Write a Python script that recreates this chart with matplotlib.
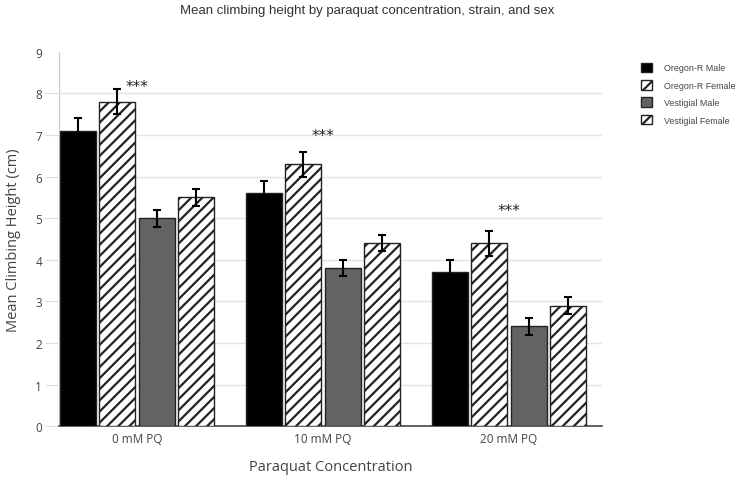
import numpy as np
import matplotlib.pyplot as plt

# data
groups = ['0 mM PQ', '10 mM PQ', '20 mM PQ']
series = ['Oregon-R Male', 'Oregon-R Female', 'Vestigial Male', 'Vestigial Female']
oregon_male = [7.1, 5.6, 3.7]
oregon_female = [7.8, 6.3, 4.4]
vest_male = [5.0, 3.8, 2.4]
vest_female = [5.5, 4.4, 2.9]
err_oregon_male = [0.3, 0.3, 0.3]
err_oregon_female = [0.3, 0.3, 0.3]
err_vest_male = [0.2, 0.2, 0.2]
err_vest_female = [0.2, 0.2, 0.2]
star_y = [7.98, 6.8, 5.0]

values = [oregon_male, oregon_female, vest_male, vest_female]
errors = [err_oregon_male, err_oregon_female, err_vest_male, err_vest_female]
faces = ['black', 'white', '#636363', 'white']
hatches = [None, '///', None, '///']

plt.rcParams['hatch.linewidth'] = 1.6

fig = plt.figure(figsize=(7.35, 4.81), dpi=100)
ax = fig.add_axes([0.080, 0.112, 0.739, 0.778])

x = np.arange(len(groups))
step = 0.212
width = 0.195
offsets = (np.arange(4) - 1.5) * step

for i in range(4):
    ax.bar(x + offsets[i], values[i], width, color=faces[i], hatch=hatches[i],
           edgecolor='#222222', linewidth=1.0, label=series[i], zorder=3)
    ax.errorbar(x + offsets[i], values[i], yerr=errors[i], fmt='none',
                ecolor='black', elinewidth=1.5, capsize=3, capthick=1.5, zorder=4)

for xi, yi in zip(x, star_y):
    ax.text(xi, yi, '***', ha='center', va='bottom', fontsize=11,
            color='#222222', family='DejaVu Sans')

ax.set_xlim(-0.42, 2.5)
ax.set_ylim(0, 9)
ax.set_yticks(range(10))
ax.set_xticks(x)
ax.set_xticklabels(groups)
ax.grid(axis='y', color='#e3e3e3', linewidth=1, zorder=0)
ax.get_ygridlines()[-1].set_visible(False)
ax.yaxis.get_major_ticks()[-1].tick1line.set_visible(False)

for s in ['top', 'right', 'left']:
    ax.spines[s].set_visible(False)
ax.spines['bottom'].set_color('#444444')
ax.spines['bottom'].set_linewidth(1.2)
ax.axvline(-0.42, color='#cccccc', linewidth=1, zorder=1)

ax.tick_params(axis='y', length=10, color='#dddddd', labelsize=8.5,
               labelcolor='#444444', pad=2)
ax.tick_params(axis='x', length=0, labelsize=8.5, labelcolor='#444444', pad=4)
for lab in ax.get_xticklabels() + ax.get_yticklabels():
    lab.set_family('Open Sans')

ax.set_xlabel('Paraquat Concentration', family='Open Sans', fontsize=10.5,
              color='#444444', labelpad=10)
ax.set_ylabel('Mean Climbing Height (cm)', family='Open Sans', fontsize=10.5,
              color='#444444', labelpad=10)
fig.suptitle('Mean climbing height by paraquat concentration, strain, and sex',
             family='Liberation Sans', fontsize=9.5, color='#333333', y=0.99)

leg = ax.legend(loc='upper left', bbox_to_anchor=(1.055, 0.995), frameon=False,
                prop={'family': 'Liberation Sans', 'size': 6.4},
                handlelength=1.3, handleheight=1.3, labelspacing=0.85,
                handletextpad=1.3, borderaxespad=0.6)
for t in leg.get_texts():
    t.set_color('#444444')

fig.savefig('out.png', dpi=100)
